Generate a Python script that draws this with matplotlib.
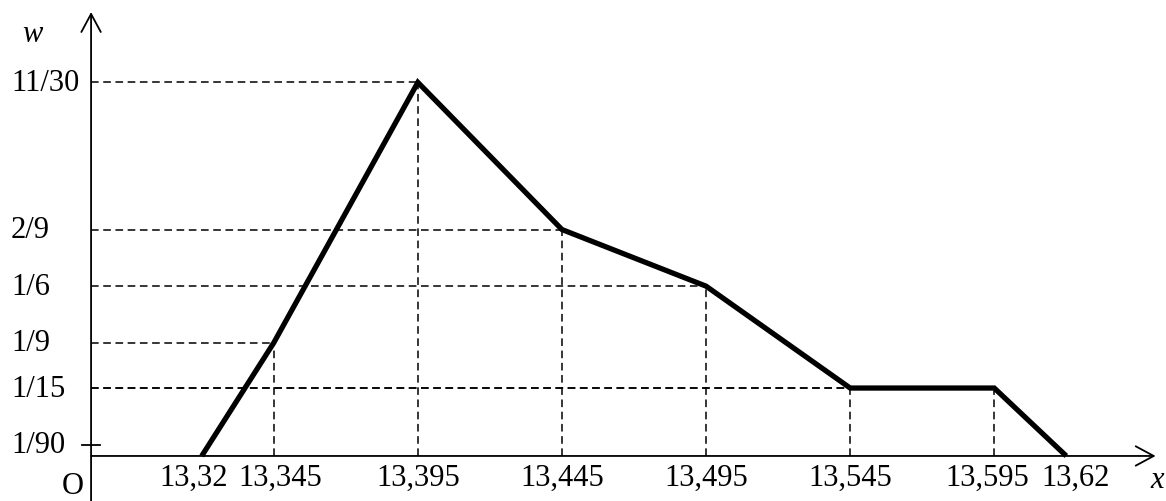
import matplotlib.pyplot as plt

# frequency polygon: interval midpoints and relative frequencies
x_mid = [13.32, 13.345, 13.395, 13.445, 13.495, 13.545, 13.595, 13.62]
w = [0, 1/9, 11/30, 2/9, 1/6, 1/15, 1/15, 0]
x_labels = ["13,32", "13,345", "13,395", "13,445", "13,495", "13,545", "13,595", "13,62"]
w_ticks = [11/30, 2/9, 1/6, 1/9, 1/15, 1/90]
w_labels = ["11/30", "2/9", "1/6", "1/9", "1/15", "1/90"]

# small sideways nudges (points) so the crowded end labels do not touch
label_nudge = [-6, 5, 0, 0, 0, 0, -5, 7]

plt.rcParams['font.family'] = ['Liberation Serif', 'DejaVu Serif']
FS = 22

fig = plt.figure(figsize=(11.66, 5.02), dpi=100)
ax = fig.add_axes([0, 0, 1, 1])
ax.set_xlim(13.2500, 13.6546)
ax.set_ylim(-0.0442, 0.4485)
ax.axis('off')

x0 = 13.2816  # where the w axis stands
arrow = dict(arrowstyle='->,head_length=0.65,head_width=0.35', lw=1.3,
             color='black', mutation_scale=20, shrinkA=0, shrinkB=0)
ax.annotate('', xy=(x0, 0.4357), xytext=(x0, -0.0442), arrowprops=arrow)
ax.annotate('', xy=(13.651, 0), xytext=(x0, 0), arrowprops=arrow)

# dashed guide lines
for xi, wi in zip(x_mid, w):
    if wi > 0:
        ax.plot([x0, xi], [wi, wi], color='black', lw=1.1, dashes=(5, 3))
        ax.plot([xi, xi], [0, wi], color='black', lw=1.1, dashes=(5, 3))

ax.plot(x_mid, w, color='black', lw=3.8, solid_joinstyle='miter',
        solid_capstyle='butt', zorder=3)

ytr = ax.get_yaxis_transform()
for wi, lab in zip(w_ticks, w_labels):
    ax.text(11/1166, wi, lab, transform=ytr, ha='left', va='center', fontsize=FS)
ax.plot([82/1166, 100/1166], [1/90, 1/90], transform=ytr, color='black', lw=1.3)

for xi, lab, dx in zip(x_mid, x_labels, label_nudge):
    ax.annotate(lab, (xi, 0), xytext=(dx, -5), textcoords='offset points',
                ha='center', va='top', fontsize=FS)

ax.text(32/1166, 1 - 35/502, 'w', transform=ax.transAxes, ha='center',
        va='center', fontsize=FS, style='italic')
ax.text(1157/1166, 1 - 481/502, 'x', transform=ax.transAxes, ha='center',
        va='center', fontsize=FS, style='italic')
ax.text(73/1166, 1/502, 'O', transform=ax.transAxes, ha='center',
        va='bottom', fontsize=FS)

plt.savefig('out.png', dpi=100)
